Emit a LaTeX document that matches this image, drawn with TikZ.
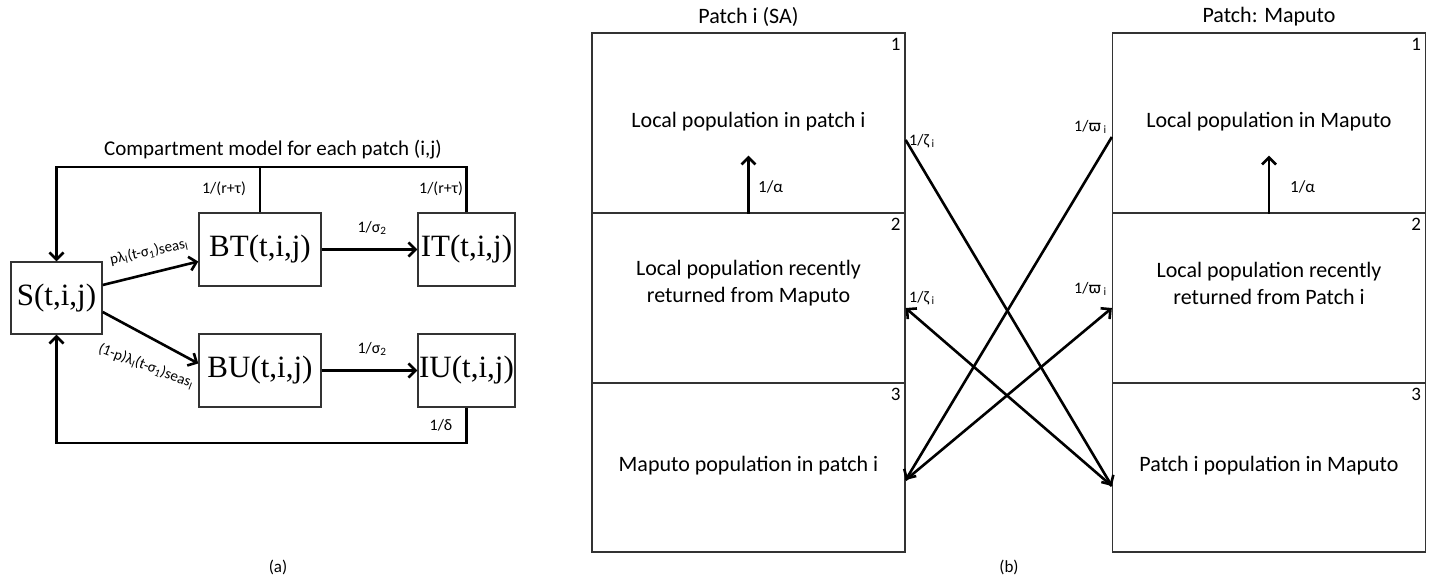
\documentclass[tikz,border=0pt]{standalone}
\usepackage{fontspec}
\setmainfont{Carlito}
\newfontfamily\timesf{Liberation Serif}
\newfontfamily\greekf{DejaVu Sans}
\usetikzlibrary{arrows.meta,calc}
\tikzset{
  cbox/.style={draw=black!80,line width=1.4pt,inner sep=0pt,font=\timesf\fontsize{31}{34}\selectfont},
  pbox/.style={draw=black!80,line width=1.3pt,inner sep=0pt,minimum width=313pt},
  flow/.style={line width=2.6pt,-{Straight Barb[length=7pt,width=14pt,line width=2.6pt]}},
  plain/.style={line width=2.6pt},
  lbl/.style={font=\fontsize{16}{18}\selectfont,inner sep=1pt},
  rlbl/.style={font=\fontsize{15}{17}\selectfont,inner sep=0pt},
  btxt/.style={font=\fontsize{22}{27}\selectfont,align=center,inner sep=0pt},
  num/.style={font=\fontsize{19}{21}\selectfont,inner sep=0pt,anchor=north east},
  ttl/.style={font=\fontsize{21}{24}\selectfont,inner sep=0pt}
}
\begin{document}
\begin{tikzpicture}[x=1pt,y=-1pt]
\useasboundingbox (0,0) rectangle (1434,577);
% ---------- panel (a)
\node[ttl] (title) at (273,150) {Compartment model for each patch (i,j)};
\node[cbox,minimum width=91pt,minimum height=72pt] (S) at (56.5,298) {S(t,i,j)};
\node[cbox,minimum width=122pt,minimum height=73pt] (BT) at (260,249.5) {BT(t,i,j)};
\node[cbox,minimum width=97pt,minimum height=73pt] (IT) at (466.5,249.5) {IT(t,i,j)};
\node[cbox,minimum width=122pt,minimum height=73pt] (BU) at (260,370.5) {BU(t,i,j)};
\node[cbox,minimum width=97pt,minimum height=73pt] (IU) at (466.5,370.5) {IU(t,i,j)};
\coordinate (top) at (0,167);
\coordinate (bot) at (0,443);
\draw[flow] (IT.north) -- (IT.north |- top) -- (S.north |- top) -- (S.north);
\draw[plain] (BT.north) -- (BT.north |- top);
\draw[flow] (IU.south) -- (IU.south |- bot) -- (S.south |- bot) -- (S.south);
\draw[flow] (BT.east) -- (IT.west);
\draw[flow] (BU.east) -- (IU.west);
\coordinate (s1) at ($(S.east)+(0,-13)$);
\coordinate (s2) at ($(S.east)+(0,14)$);
\coordinate (bt1) at ($(BT.west)+(0,12)$);
\coordinate (bu1) at ($(BU.west)+(0,-7)$);
\draw[flow] (s1) -- (bt1);
\draw[flow] (s2) -- (bu1);
\node[rlbl,rotate=12] (l1) at (149,252) {pλ\textsubscript{l}(t-σ\textsubscript{1})seas\textsubscript{l}};
\node[rlbl,rotate=-21] (l2) at (146,366) {(1-p)λ\textsubscript{l}(t-σ\textsubscript{1})seas\textsubscript{l}};
\node[lbl] (r1) at (224,189) {1/(r+τ)};
\node[lbl] (r2) at (441,189) {1/(r+τ)};
\node[lbl] (g1) at (372,228) {1/σ\textsubscript{2}};
\node[lbl] (g2) at (372,349) {1/σ\textsubscript{2}};
\node[lbl] (dl) at (441,425) {1/δ};
\node[lbl,font=\fontsize{17}{19}\selectfont] (capa) at (278,567) {(a)};
% ---------- panel (b)
\node[ttl,font=\fontsize{22}{25}\selectfont] (tL) at (748.5,17) {Patch i (SA)};
\node[ttl,font=\fontsize{22}{25}\selectfont] (tR) at (1269,17) {Patch: Maputo};
\node[pbox,minimum height=180pt] (L1) at (748.5,123) {};
\node[pbox,minimum height=170pt] (L2) at (748.5,298) {};
\node[pbox,minimum height=169pt] (L3) at (748.5,467.5) {};
\node[pbox,minimum height=180pt] (R1) at (1269,123) {};
\node[pbox,minimum height=170pt] (R2) at (1269,298) {};
\node[pbox,minimum height=169pt] (R3) at (1269,467.5) {};
\foreach \b/\n in {L1/1,L2/2,L3/3,R1/1,R2/2,R3/3}{
  \node[num] (n\b) at ($(\b.north east)+(-5,6)$) {\n};
}
\node[btxt] (tL1) at (748.5,122) {Local population in patch i};
\node[btxt] (tL2) at (748.5,283) {Local population recently\\returned from Maputo};
\node[btxt] (tL3) at (748.5,466) {Maputo population in patch i};
\node[btxt] (tR1) at (1269,122) {Local population in Maputo};
\node[btxt] (tR2) at (1269,283) {Local population recently\\returned from Patch i};
\node[btxt] (tR3) at (1269,466) {Patch i population in Maputo};
% 1/alpha arrows
\draw[flow] (L1.south) -- ++(0,-58) coordinate (aL);
\draw[flow] (R1.south) -- ++(0,-58) coordinate (aR);
\node[lbl,font=\fontsize{17}{19}\selectfont,anchor=west] (alL) at (757,187) {1/α};
\node[lbl,font=\fontsize{17}{19}\selectfont,anchor=west] (alR) at (1289,187) {1/α};
% cross arrows
\coordinate (pL1) at (L1.east |- 0,140);
\coordinate (pR1) at (R1.west |- 0,137);
\coordinate (pL2) at (L2.east |- 0,308);
\coordinate (pR2) at (R2.west |- 0,308);
\coordinate (pL3) at (L3.east |- 0,480);
\coordinate (pR3) at (R3.west |- 0,486);
\draw[flow] (pL1) -- (pR3);
\draw[flow] (pR1) -- (pL3);
\draw[flow] (pR3) -- (pL2);
\draw[flow] (pL3) -- (pR2);
\node[lbl,anchor=south west] (z1) at (908,149) {1/ζ\,\textsubscript{i}};
\node[lbl,anchor=south west] (z2) at (908,306) {1/ζ\,\textsubscript{i}};
\node[lbl,anchor=south east] (w1) at (1108,135) {1/{\greekf\fontsize{15}{17}\selectfont ϖ}\,\textsubscript{i}};
\node[lbl,anchor=south east] (w2) at (1108,297) {1/{\greekf\fontsize{15}{17}\selectfont ϖ}\,\textsubscript{i}};
\node[lbl,font=\fontsize{17}{19}\selectfont] (capb) at (1009,567) {(b)};
\end{tikzpicture}
\end{document}
